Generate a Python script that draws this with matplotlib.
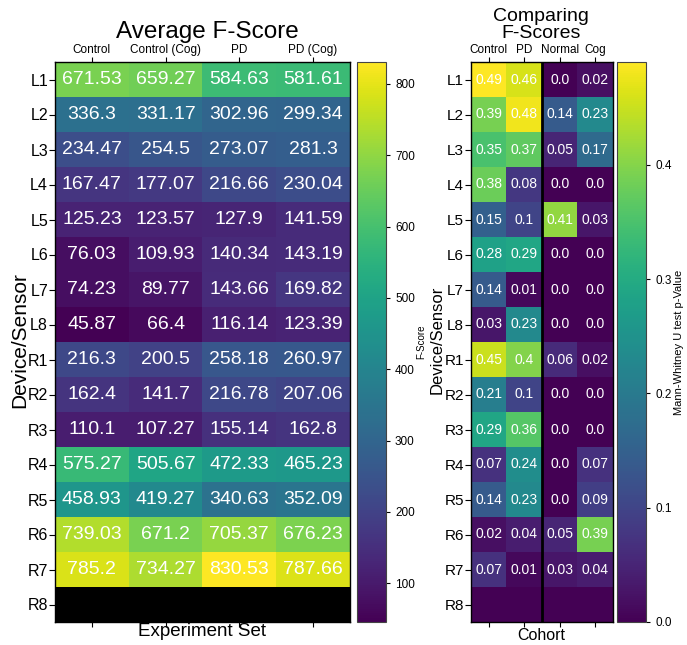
import numpy as np
import matplotlib
matplotlib.use("Agg")
import matplotlib.pyplot as plt
import copy

plt.rcParams['font.family'] = ['Liberation Sans', 'DejaVu Sans']

rows = ["L1", "L2", "L3", "L4", "L5", "L6", "L7", "L8",
        "R1", "R2", "R3", "R4", "R5", "R6", "R7", "R8"]

exp_sets = ["Control", "Control (Cog)", "PD", "PD (Cog)"]
control = [671.53, 336.3, 234.47, 167.47, 125.23, 76.03, 74.23, 45.87,
           216.3, 162.4, 110.1, 575.27, 458.93, 739.03, 785.2, np.nan]
control_cog = [659.27, 331.17, 254.5, 177.07, 123.57, 109.93, 89.77, 66.4,
               200.5, 141.7, 107.27, 505.67, 419.27, 671.2, 734.27, np.nan]
pd_ = [584.63, 302.96, 273.07, 216.66, 127.9, 140.34, 143.66, 116.14,
       258.18, 216.78, 155.14, 472.33, 340.63, 705.37, 830.53, np.nan]
pd_cog = [581.61, 299.34, 281.3, 230.04, 141.59, 143.19, 169.82, 123.39,
          260.97, 207.06, 162.8, 465.23, 352.09, 676.23, 787.66, np.nan]

cohorts = ["Control", "PD", "Normal", "Cog"]
p_control = [0.49, 0.39, 0.35, 0.38, 0.15, 0.28, 0.14, 0.03,
             0.45, 0.21, 0.29, 0.07, 0.14, 0.02, 0.07, np.nan]
p_pd = [0.46, 0.48, 0.37, 0.08, 0.1, 0.29, 0.01, 0.23,
        0.4, 0.1, 0.36, 0.24, 0.23, 0.04, 0.01, np.nan]
p_normal = [0.0, 0.14, 0.05, 0.0, 0.41, 0.0, 0.0, 0.0,
            0.06, 0.0, 0.0, 0.0, 0.0, 0.05, 0.03, np.nan]
p_cog = [0.02, 0.23, 0.17, 0.0, 0.03, 0.0, 0.0, 0.0,
         0.02, 0.0, 0.0, 0.07, 0.09, 0.39, 0.04, np.nan]

F = np.array([control, control_cog, pd_, pd_cog]).T
P = np.array([p_control, p_pd, p_normal, p_cog]).T

W, H = 687, 645
fig = plt.figure(figsize=(W / 100, H / 100), dpi=100)

def box(x0, y0, x1, y1):
    return [x0 / W, 1 - y1 / H, (x1 - x0) / W, (y1 - y0) / H]

ax1 = fig.add_axes(box(55, 62, 350, 622))
cax1 = fig.add_axes(box(357, 62, 386, 622))
ax2 = fig.add_axes(box(471, 62, 613, 622))
cax2 = fig.add_axes(box(617, 62, 646, 622))

cmap1 = copy.copy(plt.get_cmap('viridis'))
cmap1.set_bad('black')
cmap2 = copy.copy(plt.get_cmap('viridis'))
cmap2.set_bad(plt.get_cmap('viridis')(0.0))

im1 = ax1.imshow(np.ma.masked_invalid(F), cmap=cmap1, aspect='auto',
                 vmin=np.nanmin(F), vmax=np.nanmax(F), interpolation='nearest')
im2 = ax2.imshow(np.ma.masked_invalid(P), cmap=cmap2, aspect='auto',
                 vmin=0.0, vmax=np.nanmax(P), interpolation='nearest')

for i in range(F.shape[0]):
    for j in range(F.shape[1]):
        if not np.isnan(F[i, j]):
            ax1.text(j, i, str(F[i, j]), ha='center', va='center',
                     color='white', fontsize=14)
        if not np.isnan(P[i, j]):
            ax2.text(j, i, str(P[i, j]), ha='center', va='center',
                     color='white', fontsize=10)

for ax, labels, yfs in ((ax1, exp_sets, 11.5), (ax2, cohorts, 11)):
    ax.set_xticks(range(len(labels)))
    ax.set_xticklabels(labels, fontsize=8.5)
    ax.tick_params(axis='x', top=True, labeltop=True, bottom=True,
                   labelbottom=False, length=3.5, width=0.8, pad=0.5)
    ax.set_yticks(range(len(rows)))
    ax.set_yticklabels(rows, fontsize=yfs)
    ax.tick_params(axis='y', length=4, width=0.8, pad=1.0)
    for s in ax.spines.values():
        s.set_color('black')
        s.set_linewidth(1.0)

ax2.axvline(1.5, color='black', linewidth=2)

cb1 = fig.colorbar(im1, cax=cax1)
cb1.set_ticks([100, 200, 300, 400, 500, 600, 700, 800])
cb1.ax.tick_params(labelsize=8.5, length=3, width=0.8)
cb1.outline.set_edgecolor('#444444')
cb1.set_label('F-Score', fontsize=7, labelpad=1)

cb2 = fig.colorbar(im2, cax=cax2)
cb2.set_ticks([0.0, 0.1, 0.2, 0.3, 0.4])
cb2.ax.tick_params(labelsize=8.5, length=3, width=0.8)
cb2.outline.set_edgecolor('#444444')
cb2.set_label('Mann-Whitney U test p-Value', fontsize=8, labelpad=2)

fig.text(207 / W, 1 - 32 / H, 'Average F-Score', ha='center', va='center',
         fontsize=17.5)
fig.text(541 / W, 1 - 25 / H, 'Comparing\nF-Scores', ha='center', va='center',
         fontsize=14, linespacing=0.95)
fig.text(20 / W, 1 - 340 / H, 'Device/Sensor', ha='center', va='center',
         rotation=90, fontsize=15)
fig.text(437 / W, 1 - 340 / H, 'Device/Sensor', ha='center', va='center',
         rotation=90, fontsize=12)
fig.text(202 / W, 1 - 632 / H, 'Experiment Set', ha='center', va='center',
         fontsize=13.5)
fig.text(541 / W, 1 - 636 / H, 'Cohort', ha='center', va='center',
         fontsize=11.5)

fig.savefig('out.png', dpi=100)
